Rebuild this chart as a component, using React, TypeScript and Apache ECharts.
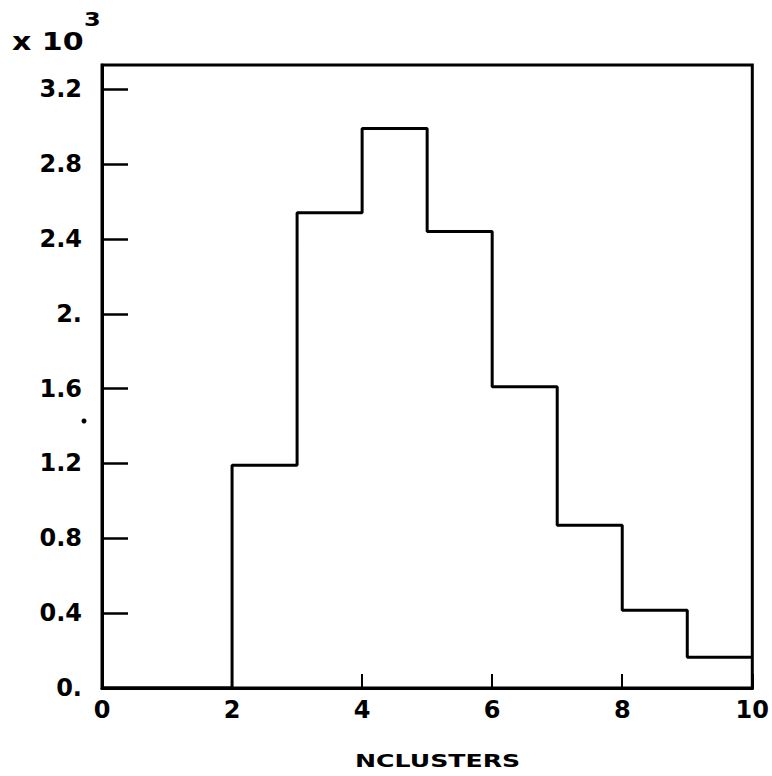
import React, { useEffect, useRef } from "react";
import * as echarts from "echarts";

// Histogram of NCLUSTERS (counts in units of 10^3), unit-width bins from 0 to 10
const binEdges = [0, 1, 2, 3, 4, 5, 6, 7, 8, 9, 10];
const binCounts = [0, 0, 1.19, 2.54, 2.99, 2.44, 1.61, 0.87, 0.416, 0.165];

const yTickValues = [0, 0.4, 0.8, 1.2, 1.6, 2.0, 2.4, 2.8, 3.2];
const yTickLabels = ["0.", "0.4", "0.8", "1.2", "1.6", "2.", "2.4", "2.8", "3.2"];
const xTickValues = [0, 2, 4, 6, 8, 10];
const xTickLabels = ["0", "2", "4", "6", "8", "10"];

const FONT = "'DejaVu Sans', Verdana, sans-serif";

export default function App() {
  const ref = useRef<HTMLDivElement>(null);

  useEffect(() => {
    if (!ref.current) return;
    const chart = echarts.init(ref.current, null, { renderer: "svg" });

    // outline points of the step histogram
    const outline: [number, number][] = [];
    for (let i = 0; i < binCounts.length; i++) {
      outline.push([binEdges[i], binCounts[i]]);
      outline.push([binEdges[i + 1], binCounts[i]]);
    }

    chart.setOption({
      animation: false,
      backgroundColor: "#ffffff",
      grid: {
        left: 102,
        right: 16,
        top: 65,
        bottom: 88,
        show: true,
        borderColor: "#000",
        borderWidth: 3,
        backgroundColor: "transparent",
      },
      xAxis: {
        type: "value",
        min: 0,
        max: 10,
        interval: 2,
        axisLine: { show: true, lineStyle: { color: "#000", width: 3 } },
        axisTick: {
          show: true,
          inside: true,
          length: 14,
          customValues: xTickValues,
          lineStyle: { color: "#000", width: 2 },
        },
        splitLine: { show: false },
        axisLabel: {
          customValues: xTickValues,
          formatter: (v: number) => xTickLabels[xTickValues.indexOf(v)] ?? "",
          color: "#000",
          fontFamily: FONT,
          fontWeight: "bold",
          fontSize: 24,
          margin: 10,
        },
      },
      yAxis: {
        type: "value",
        min: 0,
        max: 3.33,
        axisLine: { show: true, lineStyle: { color: "#000", width: 3 } },
        axisTick: {
          show: true,
          inside: true,
          length: 26,
          customValues: yTickValues,
          lineStyle: { color: "#000", width: 2.5 },
        },
        splitLine: { show: false },
        axisLabel: {
          customValues: yTickValues,
          formatter: (v: number) => {
            const i = yTickValues.findIndex((t) => Math.abs(t - v) < 1e-6);
            return i >= 0 ? yTickLabels[i] : "";
          },
          color: "#000",
          fontFamily: FONT,
          fontWeight: "bold",
          fontSize: 24,
          margin: 20,
        },
      },
      graphic: [
        {
          type: "text",
          x: 12,
          y: 42,
          scaleX: 1.25,
          style: {
            text: "x 10",
            fill: "#000",
            font: `bold 24px ${FONT}`,
            verticalAlign: "middle",
          },
        },
        {
          type: "text",
          x: 84,
          y: 19,
          scaleX: 1.2,
          style: {
            text: "3",
            fill: "#000",
            font: `bold 20px ${FONT}`,
            verticalAlign: "middle",
          },
        },
        {
          type: "text",
          x: 355,
          y: 761,
          scaleX: 1.4,
          style: {
            text: "NCLUSTERS",
            fill: "#000",
            font: `bold 18px ${FONT}`,
            verticalAlign: "middle",
          },
        },
        {
          type: "circle",
          shape: { cx: 84, cy: 421, r: 2.5 },
          style: { fill: "#000" },
        },
      ],
      series: [
        {
          type: "line",
          data: outline,
          showSymbol: false,
          symbol: "none",
          lineStyle: { color: "#000", width: 3 },
          z: 3,
        },
      ],
    });

    return () => chart.dispose();
  }, []);

  return (
    <div
      ref={ref}
      style={{ position: "fixed", left: 0, top: 0, width: 772, height: 776 }}
    />
  );
}
